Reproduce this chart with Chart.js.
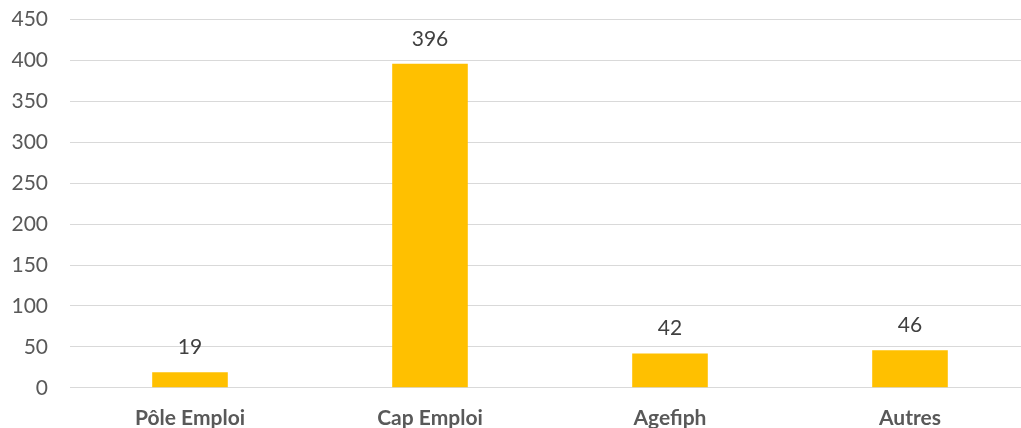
<!DOCTYPE html>
<html>
<head>
<meta charset="utf-8">
<script src="https://cdn.jsdelivr.net/npm/chart.js@4/dist/chart.umd.min.js"></script>
<style>
  html, body { margin: 0; padding: 0; background: #fff; overflow: hidden; }
  #wrap { width: 1032px; height: 456px; margin-top: -15px; position: relative; }
</style>
</head>
<body>
<div id="wrap"><canvas id="barChart"></canvas></div>
<script>
const categories = ['Pôle Emploi', 'Cap Emploi', 'Agefiph', 'Autres'];
const values = [19, 396, 42, 46];
const yTicks = [0, 50, 100, 150, 200, 250, 300, 350, 400, 450];

const FONT = 'Lato, "Open Sans", sans-serif';

// draws the number above each bar
const barLabels = {
  id: 'barLabels',
  afterDatasetsDraw(chart) {
    const ctx = chart.ctx;
    const meta = chart.getDatasetMeta(0);
    ctx.save();
    ctx.font = '21px ' + FONT;
    ctx.fillStyle = '#404040';
    ctx.textAlign = 'center';
    ctx.textBaseline = 'middle';
    meta.data.forEach((bar, i) => {
      ctx.fillText(values[i], bar.x, bar.y - 25);
    });
    ctx.restore();
  }
};

const ctx1 = document.getElementById('barChart');
const myChart = new Chart(ctx1, {
  type: 'bar',
  data: {
    labels: categories,
    datasets: [{
      data: values,
      backgroundColor: '#FFC000',
      borderWidth: 0,
      categoryPercentage: 1,
      barPercentage: 0.315
    }]
  },
  options: {
    responsive: true,
    maintainAspectRatio: false,
    animation: false,
    layout: { padding: { top: 0, right: 2, bottom: 0, left: 0 } },
    plugins: {
      legend: { display: false },
      tooltip: { enabled: false }
    },
    scales: {
      x: {
        grid: { display: false },
        border: { display: false },
        ticks: {
          color: '#595959',
          padding: 10,
          font: { family: FONT, size: 21, weight: 'bold' }
        }
      },
      y: {
        min: 0,
        max: 450,
        afterFit(scale) { scale.width = 70; },
        afterBuildTicks(scale) { scale.ticks = yTicks.map(v => ({ value: v })); },
        grid: { color: '#d9d9d9', lineWidth: 1, drawTicks: false },
        border: { display: false },
        ticks: {
          color: '#595959',
          padding: 22,
          font: { family: FONT, size: 21 }
        }
      }
    }
  },
  plugins: [barLabels]
});
</script>
</body>
</html>
